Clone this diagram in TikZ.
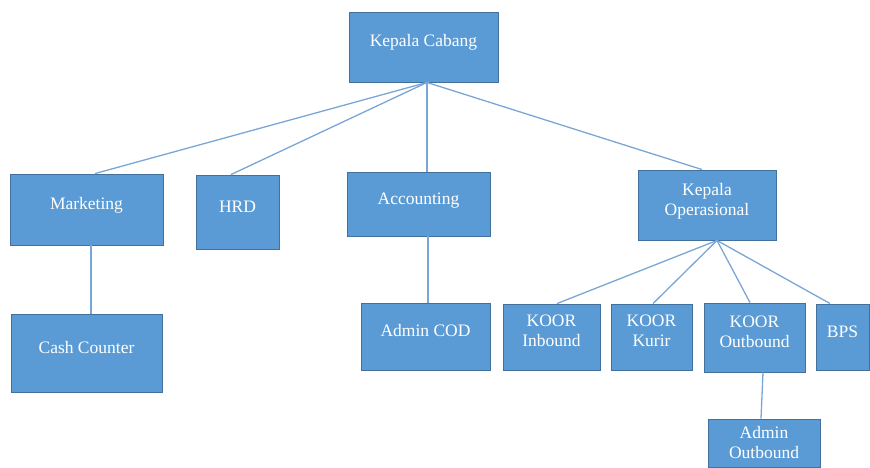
\documentclass[tikz,border=0pt]{standalone}
\usepackage{fontspec}
\setmainfont{Liberation Serif}
\newfontfamily\orgfont{Liberation Serif}
\usetikzlibrary{positioning}
\definecolor{boxblue}{HTML}{5B9BD5}
\definecolor{boxedge}{HTML}{41719C}
\definecolor{linkblue}{HTML}{7AA6D6}

\begin{document}
\begin{tikzpicture}[x=1pt, y=-1pt,
    unit/.style={draw=boxedge, fill=boxblue, line width=0.9pt, text=white,
        align=center, inner sep=0pt, font=\orgfont\fontsize{17.5}{20}\selectfont},
    oneline/.style={unit, text height=12pt, text depth=12pt},
    link/.style={draw=linkblue, line width=1.3pt}]
    \useasboundingbox (0,0) rectangle (870,468);

    % top
    \node [oneline, minimum width=149pt, minimum height=70pt] (kc) at (423.5,47) {Kepala Cabang};

    % second row
    \node [oneline, minimum width=153pt, minimum height=71pt] (mkt) at (86.5,209.5) {Marketing};
    \node [oneline, minimum width=83pt, minimum height=74pt] (hrd) at (237.5,212) {HRD};
    \node [oneline, minimum width=143pt, minimum height=64pt] (acc) at (418.5,204) {Accounting};
    \node [unit, minimum width=138pt, minimum height=70pt] (ko) at (707,205) {Kepala\\Operasional\\[-8pt]};

    % third row
    \node [oneline, minimum width=151pt, minimum height=78pt] (cc) at (86.5,353) {Cash Counter};
    \node [oneline, minimum width=129pt, minimum height=67pt] (cod) at (425.5,336.5) {Admin COD};
    \node [unit, minimum width=97pt, minimum height=66pt] (kin) at (551.5,337) {KOOR\\Inbound\\[-8pt]};
    \node [unit, minimum width=81pt, minimum height=66pt] (kkur) at (651.5,337) {KOOR\\Kurir\\[-8pt]};
    \node [unit, minimum width=101pt, minimum height=69pt] (kout) at (754.5,337.5) {KOOR\\Outbound\\[-8pt]};
    \node [oneline, minimum width=53pt, minimum height=66pt] (bps) at (842.5,337) {BPS};

    % bottom
    \node [unit, minimum width=112pt, minimum height=48pt] (aout) at (764,443) {Admin\\Outbound};

    % connectors
    \draw [link] ([xshift=3.5pt]kc.south) -- ([xshift=8.5pt]mkt.north);
    \draw [link] ([xshift=3.5pt]kc.south) -- ([xshift=-6.5pt]hrd.north);
    \draw [link] ([xshift=3.5pt]kc.south) -- ([xshift=8.5pt]acc.north);
    \draw [link] ([xshift=3.5pt]kc.south) -- ([xshift=-5pt]ko.north);
    \draw [link] ([xshift=4.5pt]mkt.south) -- ([xshift=4.5pt]cc.north);
    \draw [link] ([xshift=9.5pt]acc.south) -- ([xshift=2.5pt]cod.north);
    \draw [link] ([xshift=10pt]ko.south) -- ([xshift=5.5pt]kin.north);
    \draw [link] ([xshift=10pt]ko.south) -- ([xshift=1.5pt]kkur.north);
    \draw [link] ([xshift=10pt]ko.south) -- ([xshift=-4.5pt]kout.north);
    \draw [link] ([xshift=10pt]ko.south) -- ([xshift=-12.5pt]bps.north);
    \draw [link] ([xshift=8.5pt]kout.south) -- ([xshift=-3pt]aout.north);
\end{tikzpicture}
\end{document}
